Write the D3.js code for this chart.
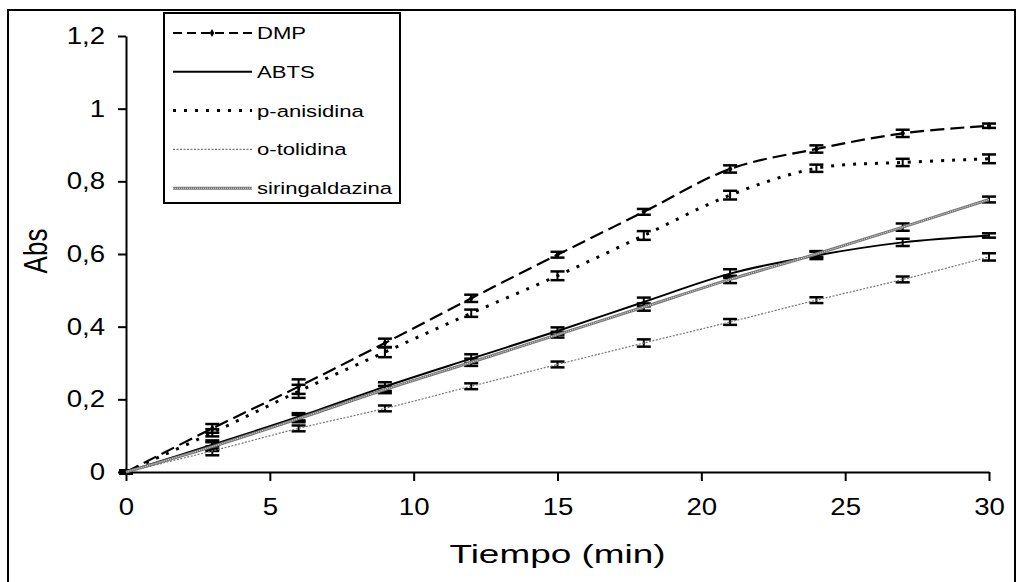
<!DOCTYPE html>
<html>
<head>
<meta charset="utf-8">
<script src="https://cdn.jsdelivr.net/npm/d3@7"></script>
<style>
  body { margin: 0; background: #fff; }
  svg text { font-family: "Liberation Sans", Arial, sans-serif; fill: #000; }
</style>
</head>
<body>
<div id="chart"></div>
<script>
var svgWidth = 1021;
var svgHeight = 582;

var margin = { top: 36, right: 32, bottom: 110, left: 126 };
var width = 989 - margin.left;
var height = 472 - margin.top;

// the original picture is stretched sideways, so text gets a horizontal scale
var stretch = 1.3;

// data
var tiempo = [0, 3, 6, 9, 12, 15, 18, 21, 24, 27, 30];
var dmp = [0, 0.12, 0.235, 0.355, 0.478, 0.598, 0.716, 0.834, 0.889, 0.932, 0.953];
var dmpErr = [0.004, 0.012, 0.02, 0.012, 0.01, 0.008, 0.008, 0.01, 0.01, 0.01, 0.006];
var abts = [0, 0.075, 0.152, 0.235, 0.312, 0.388, 0.468, 0.546, 0.596, 0.632, 0.651];
var abtsErr = [0.004, 0.012, 0.01, 0.012, 0.012, 0.01, 0.012, 0.012, 0.01, 0.01, 0.006];
var anisidina = [0, 0.108, 0.222, 0.33, 0.437, 0.54, 0.651, 0.762, 0.836, 0.852, 0.862];
var anisidinaErr = [0.004, 0.01, 0.018, 0.014, 0.01, 0.012, 0.012, 0.012, 0.01, 0.01, 0.012];
var tolidina = [0, 0.058, 0.12, 0.175, 0.236, 0.296, 0.355, 0.413, 0.473, 0.53, 0.592];
var tolidinaErr = [0.003, 0.012, 0.008, 0.008, 0.008, 0.008, 0.01, 0.008, 0.008, 0.008, 0.01];
var siringaldazina = [0, 0.07, 0.147, 0.227, 0.302, 0.378, 0.454, 0.53, 0.6, 0.674, 0.75];
var siringaldazinaErr = [0.004, 0.012, 0.01, 0.01, 0.01, 0.008, 0.01, 0.01, 0.008, 0.01, 0.008];
var yTicks = [0, 0.2, 0.4, 0.6, 0.8, 1, 1.2];
var xTicks = [0, 5, 10, 15, 20, 25, 30];

var series = [
  { name: "DMP", values: dmp, err: dmpErr, stroke: "#000", width: 2.2, dash: "14,6", marker: true },
  { name: "ABTS", values: abts, err: abtsErr, stroke: "#000", width: 2, dash: null },
  { name: "p-anisidina", values: anisidina, err: anisidinaErr, stroke: "#000", width: 3, dash: "3,8" },
  { name: "o-tolidina", values: tolidina, err: tolidinaErr, stroke: "#777", width: 1.2, dash: "2,1.5" },
  { name: "siringaldazina", values: siringaldazina, err: siringaldazinaErr, stroke: "#777", width: 3, dash: null, striped: true }
];

var svg = d3.select("#chart")
  .append("svg")
  .attr("width", svgWidth)
  .attr("height", svgHeight);

// outer frame
svg.append("rect")
  .attr("x", 8).attr("y", 10)
  .attr("width", 1007).attr("height", 590)
  .attr("fill", "none").attr("stroke", "#000").attr("stroke-width", 2);

var chartGroup = svg.append("g")
  .attr("transform", `translate(${margin.left}, ${margin.top})`);

var xScale = d3.scaleLinear().domain([0, 30]).range([0, width]);
var yScale = d3.scaleLinear().domain([0, 1.2]).range([height, 0]);

var fmt = function(d) { return String(d).replace(".", ","); };

var xAxis = chartGroup.append("g")
  .attr("transform", `translate(0, ${height})`)
  .call(d3.axisBottom(xScale).tickValues(xTicks).tickSize(9).tickSizeOuter(0).tickPadding(18).tickFormat(fmt));

var yAxis = chartGroup.append("g")
  .call(d3.axisLeft(yScale).tickValues(yTicks).tickSize(8).tickSizeOuter(0).tickPadding(13).tickFormat(fmt));

[xAxis, yAxis].forEach(function(ax) {
  ax.select(".domain").attr("stroke", "#000").attr("stroke-width", 2);
  ax.selectAll(".tick line").attr("stroke", "#000").attr("stroke-width", 2);
  ax.selectAll(".tick text").style("font-size", "23px").attr("fill", "#000");
});
xAxis.selectAll(".tick text").attr("transform", "scale(1.2,1)");
yAxis.selectAll(".tick text")
  .attr("x", 0)
  .attr("transform", "translate(-21,0) scale(1.2,1)");

var line = d3.line()
  .x(function(d, i) { return xScale(tiempo[i]); })
  .y(function(d) { return yScale(d); })
  .curve(d3.curveCatmullRom.alpha(0.5));

// error bars
series.forEach(function(s) {
  var g = chartGroup.append("g");
  s.values.forEach(function(v, i) {
    var x = xScale(tiempo[i]);
    var y1 = yScale(v + s.err[i]);
    var y2 = yScale(v - s.err[i]);
    g.append("line").attr("x1", x).attr("x2", x).attr("y1", y1).attr("y2", y2)
      .attr("stroke", "#000").attr("stroke-width", 2);
    [y1, y2].forEach(function(y) {
      g.append("line").attr("x1", x - 7).attr("x2", x + 7).attr("y1", y).attr("y2", y)
        .attr("stroke", "#000").attr("stroke-width", 2.5);
    });
  });
});

// lines
series.forEach(function(s) {
  var p = chartGroup.append("path")
    .datum(s.values)
    .attr("d", line)
    .attr("fill", "none")
    .attr("stroke", s.stroke)
    .attr("stroke-width", s.width);
  if (s.dash) p.attr("stroke-dasharray", s.dash);
  if (s.striped) {
    chartGroup.append("path")
      .datum(s.values)
      .attr("d", line)
      .attr("fill", "none")
      .attr("stroke", "#ddd")
      .attr("stroke-width", 1)
      .attr("stroke-dasharray", "1,1");
  }
  if (s.marker) {
    chartGroup.selectAll(null)
      .data(s.values)
      .enter()
      .append("path")
      .attr("d", d3.symbol().type(d3.symbolDiamond).size(18))
      .attr("transform", function(d, i) { return `translate(${xScale(tiempo[i])}, ${yScale(d)})`; })
      .attr("fill", "#000");
  }
});

// legend
var legend = svg.append("g");
legend.append("rect")
  .attr("x", 164).attr("y", 13)
  .attr("width", 236).attr("height", 190)
  .attr("fill", "#fff").attr("stroke", "#000").attr("stroke-width", 2);

series.forEach(function(s, i) {
  var y = 33 + i * 38.8;
  var l = legend.append("line")
    .attr("x1", 173).attr("x2", 252).attr("y1", y).attr("y2", y)
    .attr("stroke", s.stroke).attr("stroke-width", s.width);
  if (s.dash) l.attr("stroke-dasharray", s.name === "DMP" ? "9,5" : s.dash);
  if (s.striped) {
    legend.append("line")
      .attr("x1", 173).attr("x2", 252).attr("y1", y).attr("y2", y)
      .attr("stroke", "#ddd").attr("stroke-width", 1).attr("stroke-dasharray", "1,1");
  }
  if (s.marker) {
    legend.append("path")
      .attr("d", d3.symbol().type(d3.symbolDiamond).size(18))
      .attr("transform", `translate(212, ${y})`)
      .attr("fill", "#000");
  }
  legend.append("text")
    .attr("transform", `translate(257, ${y}) scale(${stretch},1)`)
    .attr("dy", "0.35em")
    .style("font-size", "17px")
    .text(s.name);
});

// axis titles
svg.append("text")
  .attr("transform", `translate(${margin.left + width / 2}, 563) scale(1.42,1)`)
  .attr("text-anchor", "middle")
  .style("font-size", "26px")
  .text("Tiempo (min)");

svg.append("text")
  .attr("transform", `translate(47, 251) scale(${stretch},1) rotate(-90)`)
  .attr("text-anchor", "middle")
  .style("font-size", "26px")
  .text("Abs");
</script>
</body>
</html>
